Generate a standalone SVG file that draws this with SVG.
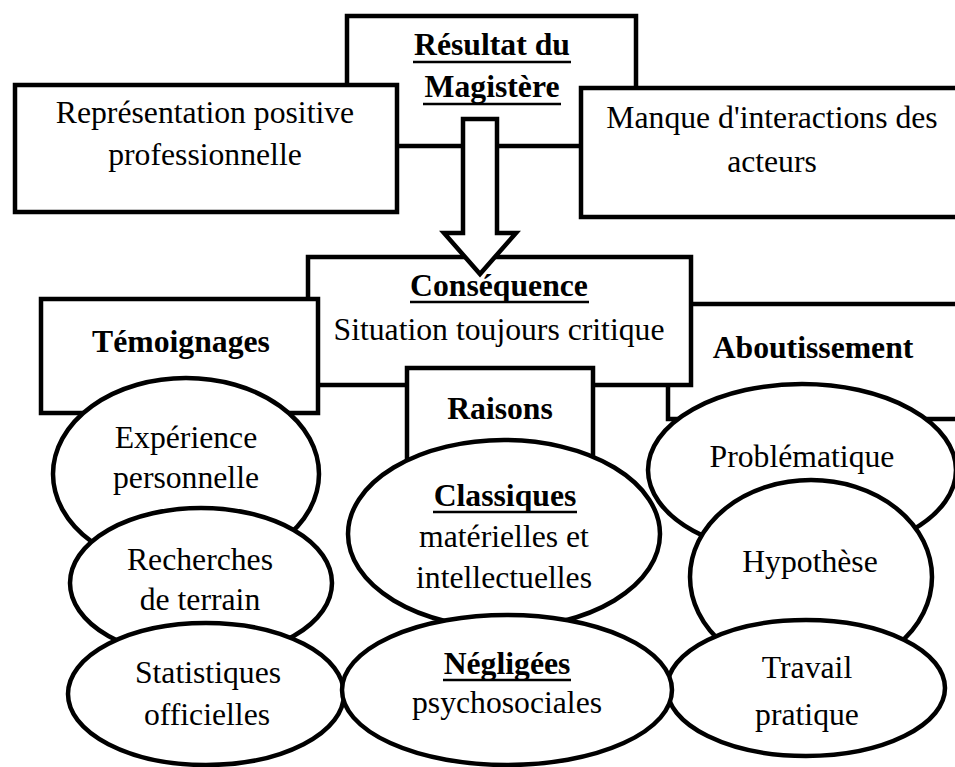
<svg xmlns="http://www.w3.org/2000/svg" width="955" height="767" viewBox="0 0 955 767">
  <style>
    .box { fill: #ffffff; stroke: #000000; stroke-width: 4.5; }
    .arrow { fill: #ffffff; stroke: #000000; stroke-width: 4.5; stroke-linejoin: miter; }
    text { font-family: "Liberation Serif", "Times New Roman", serif; font-size: 31.7px; fill: #000000; text-anchor: middle; }
    .b { font-weight: bold; }
    .ul { stroke: #000000; stroke-width: 2.6; }
  </style>
  <rect width="955" height="767" fill="#ffffff"/>

  <!-- top row -->
  <g id="resultat">
    <rect class="box" x="347" y="16" width="289" height="130"/>
    <text class="b" x="492" y="55">Résultat du</text>
    <line class="ul" x1="413" y1="62" x2="571" y2="62"/>
    <text class="b" x="492" y="97">Magistère</text>
    <line class="ul" x1="423" y1="104" x2="561" y2="104"/>
  </g>
  <g id="representation">
    <rect class="box" x="15" y="85" width="382" height="127"/>
    <text x="205" y="123">Représentation positive</text>
    <text x="205" y="165">professionnelle</text>
  </g>
  <g id="manque">
    <rect class="box" x="581" y="88" width="400" height="129"/>
    <text x="772" y="128">Manque d'interactions des</text>
    <text x="772" y="172">acteurs</text>
  </g>

  <!-- middle row -->
  <g id="aboutissement">
    <rect class="box" x="668" y="304" width="320" height="115"/>
    <text class="b" x="813" y="358">Aboutissement</text>
  </g>
  <g id="consequence">
    <rect class="box" x="308" y="257" width="383" height="128"/>
    <text class="b" x="499" y="296">Conséquence</text>
    <line class="ul" x1="410" y1="302" x2="589" y2="302"/>
    <text x="499" y="340">Situation toujours critique</text>
  </g>

  <g id="connectors">
    <polygon class="arrow" points="463,119 497,119 497,233 516,233 480,274 444,233 463,233"/>
  </g>

  <g id="temoignages">
    <rect class="box" x="41" y="299" width="277" height="114"/>
    <text class="b" x="181" y="352">Témoignages</text>
  </g>
  <g id="raisons">
    <rect class="box" x="407" y="368" width="186" height="112"/>
    <text class="b" x="500" y="419">Raisons</text>
  </g>

  <!-- left column -->
  <g id="experience">
    <ellipse class="box" cx="186" cy="474" rx="133" ry="96"/>
    <text x="186" y="448">Expérience</text>
    <text x="186" y="488">personnelle</text>
  </g>
  <g id="recherches">
    <ellipse class="box" cx="201" cy="583" rx="131" ry="75"/>
    <text x="200" y="570">Recherches</text>
    <text x="200" y="610">de terrain</text>
  </g>
  <g id="statistiques">
    <ellipse class="box" cx="206" cy="694" rx="138" ry="71"/>
    <text x="208" y="683">Statistiques</text>
    <text x="207" y="725">officielles</text>
  </g>

  <!-- right column -->
  <g id="problematique">
    <ellipse class="box" cx="802" cy="470" rx="154" ry="86"/>
    <text x="802" y="467">Problématique</text>
  </g>
  <g id="hypothese">
    <ellipse class="box" cx="811" cy="577" rx="121" ry="97"/>
    <text x="810" y="572">Hypothèse</text>
  </g>
  <g id="travail">
    <ellipse class="box" cx="806" cy="688" rx="139" ry="68"/>
    <text x="807" y="678">Travail</text>
    <text x="807" y="725">pratique</text>
  </g>

  <!-- centre column -->
  <g id="classiques">
    <ellipse class="box" cx="504" cy="534" rx="156" ry="94"/>
    <text class="b" x="505" y="506">Classiques</text>
    <line class="ul" x1="433" y1="512" x2="577" y2="512"/>
    <text x="504" y="547">matérielles et</text>
    <text x="504" y="588">intellectuelles</text>
  </g>
  <g id="negligees">
    <ellipse class="box" cx="507" cy="690" rx="165" ry="75"/>
    <text class="b" x="507" y="674">Négligées</text>
    <line class="ul" x1="443" y1="680" x2="571" y2="680"/>
    <text x="507" y="713">psychosociales</text>
  </g>
</svg>
